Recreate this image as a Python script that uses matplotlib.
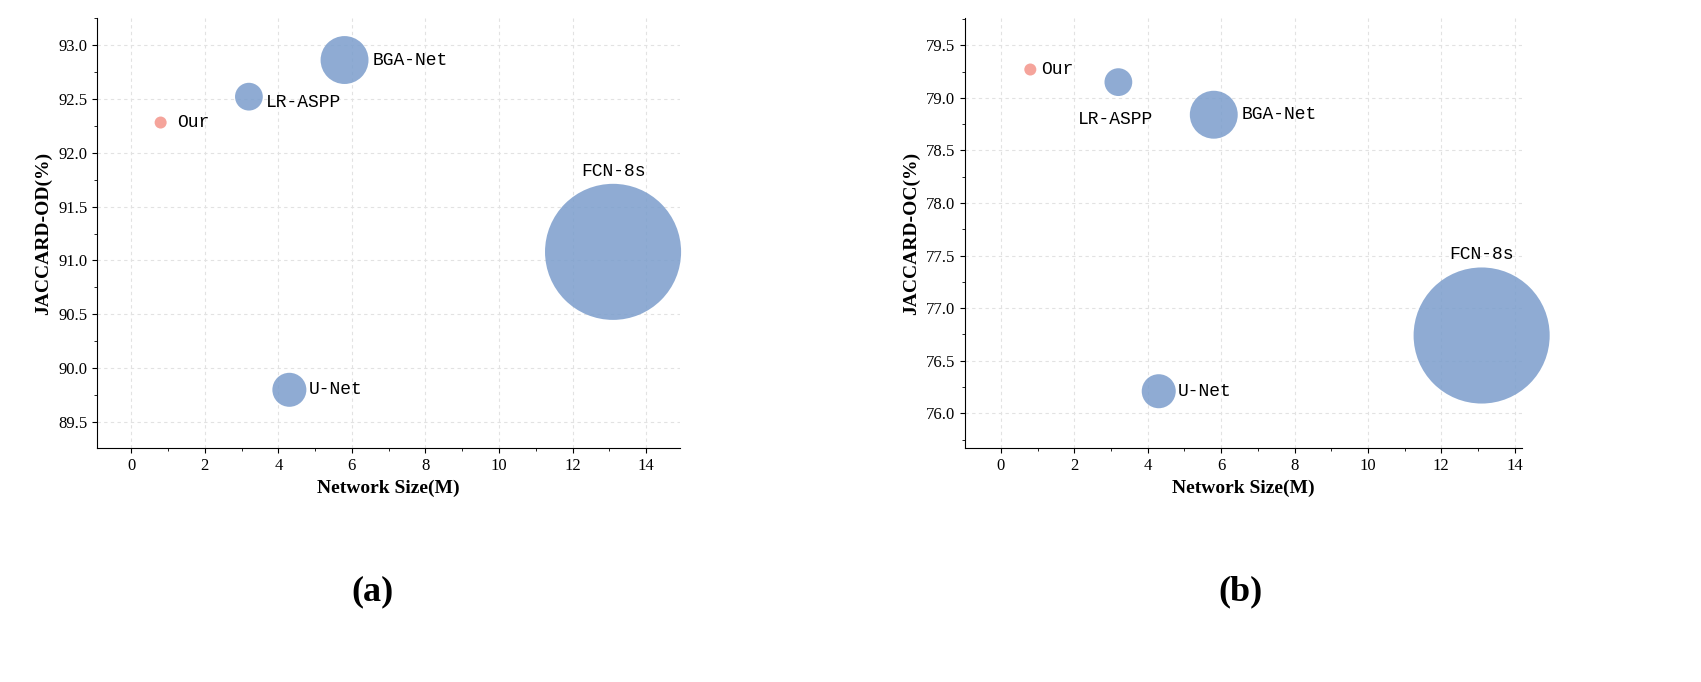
import matplotlib
matplotlib.use("Agg")
import matplotlib.pyplot as plt
from matplotlib.ticker import MultipleLocator

names = ["Our", "LR-ASPP", "BGA-Net", "U-Net", "FCN-8s"]
size_m = [0.8, 3.2, 5.8, 4.3, 13.1]
od = [92.28, 92.52, 92.86, 89.80, 91.08]
oc = [79.27, 79.15, 78.84, 76.21, 76.74]
marker_area = [75, 400, 1190, 600, 9600]
colors = ["#f4948a", "#7b9dcc", "#7b9dcc", "#7b9dcc", "#7b9dcc"]

fig = plt.figure(figsize=(17.01, 6.82), dpi=100)
W, H = 1701, 682

def mk(l, r, t, b):
    return fig.add_axes([l / W, 1 - b / H, (r - l) / W, (b - t) / H])

panels = [
    (mk(97, 680, 18, 448), od, "JACCARD-OD(%)", (-0.93, 14.92), (89.26, 93.25), 0.5,
     {"Our": (12, 0, "left", "center"), "LR-ASPP": (12, -4, "left", "center"),
      "BGA-Net": (20, 0, "left", "center"), "U-Net": (14, 0, "left", "center"),
      "FCN-8s": (0, 52, "center", "bottom")}, "(a)", 372),
    (mk(965, 1522, 18, 448), oc, "JACCARD-OC(%)", (-0.98, 14.2), (75.67, 79.76), 0.5,
     {"Our": (8, 0, "left", "center"), "LR-ASPP": (-2, -27, "center", "center"),
      "BGA-Net": (20, 0, "left", "center"), "U-Net": (14, 0, "left", "center"),
      "FCN-8s": (0, 52, "center", "bottom")}, "(b)", 1240),
]

for ax, ys, ylabel, xl, yl, ystep, offs, cap, capx in panels:
    ax.scatter(size_m, ys, s=marker_area, c=colors, alpha=0.85, edgecolors="none",
               zorder=3, clip_on=False)
    for n, x, y in zip(names, size_m, ys):
        dx, dy, ha, va = offs[n]
        ax.annotate(n, (x, y), xytext=(dx, dy), textcoords="offset points",
                    ha=ha, va=va, fontsize=13, family="Liberation Mono")
    ax.set_xlim(*xl)
    ax.set_ylim(*yl)
    ax.xaxis.set_major_locator(MultipleLocator(2))
    ax.xaxis.set_minor_locator(MultipleLocator(1))
    ax.yaxis.set_major_locator(MultipleLocator(ystep))
    ax.yaxis.set_minor_locator(MultipleLocator(ystep / 2))
    ax.yaxis.set_major_formatter(matplotlib.ticker.FormatStrFormatter("%.1f"))
    ax.grid(True, which="major", linestyle=(0, (3, 3)), color="#e2e2e2", linewidth=0.8, zorder=0)
    for s in ["top", "right"]:
        ax.spines[s].set_visible(False)
    ax.tick_params(labelsize=12, direction="out")
    for lab in ax.get_xticklabels() + ax.get_yticklabels():
        lab.set_family("Liberation Serif")
    ax.set_xlabel("Network Size(M)", fontsize=14, fontweight="bold", family="Liberation Serif")
    ax.set_ylabel(ylabel, fontsize=14, fontweight="bold", family="Liberation Serif")
    fig.text(capx / W, 1 - 592 / H, cap, ha="center", va="center", fontsize=26,
             fontweight="bold", family="Liberation Serif")

fig.savefig("out.png", dpi=100)
